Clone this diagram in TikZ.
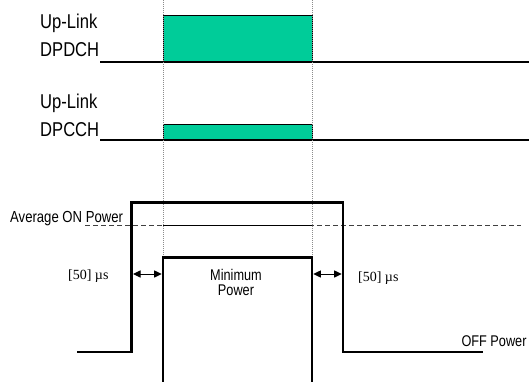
\documentclass[tikz,border=0pt]{standalone}
\usepackage{fontspec}
\setmainfont{Liberation Serif}
\newfontfamily\lsans[FakeStretch=0.83]{Liberation Sans}
\newfontfamily\lsansn[FakeStretch=0.82]{Liberation Sans}
\usetikzlibrary{arrows.meta}
\definecolor{chgreen}{RGB}{0,204,153}
\begin{document}
\begin{tikzpicture}[x=1pt,y=-1pt,
  lbl/.style={inner sep=0pt, font=\lsans\fontsize{20}{20}\selectfont},
  avgfont/.style={inner sep=0pt, font=\lsansn\fontsize{16}{16}\selectfont},
  small/.style={inner sep=0pt, font=\lsansn\fontsize{15.5}{15.5}\selectfont},
  serif/.style={inner sep=0pt, font=\fontsize{14}{14}\selectfont},
  chline/.style={line width=2pt},
  pulse/.style={fill=chgreen, draw=black, line width=0.7pt},
  steplw/.style={line width=2.5pt, line join=miter},
  guide/.style={black!45, line width=0.6pt, dash pattern=on 1pt off 1pt},
  avgdash/.style={black!75, line width=0.8pt, dash pattern=on 5pt off 3pt},
  dim/.style={line width=1pt, {Triangle[length=7.5pt,width=7pt]}-{Triangle[length=7.5pt,width=7pt]}},
]
\useasboundingbox (0,0) rectangle (529,382);
% guide coordinates
\coordinate (t1) at (163,0);
\coordinate (t2) at (312,0);
\coordinate (m1) at (163,257.7);
\coordinate (m2) at (312,257.7);
% DPDCH
\draw[pulse] (163,15) rectangle (312,61.7);
\coordinate (l1a) at (100,61.7);
\coordinate (l1b) at (529,61.7);
\draw[chline] (l1a) -- (l1b);
% DPCCH
\draw[pulse] (163,124.3) rectangle (312,140);
\coordinate (l2a) at (100,140);
\coordinate (l2b) at (529,140);
\draw[chline] (l2a) -- (l2b);
% guides
\draw[guide] (t1) -- (m1);
\draw[guide] (t2) -- (m2);
% average on power
\coordinate (da) at (85,225.7);
\coordinate (db) at (521,225.7);
\draw[avgdash] (da) -- (db);
\coordinate (sa) at (163,225.7);
\coordinate (sb) at (312,225.7);
\draw[line width=1.3pt] (sa) -- (sb);
% outer step
\draw[steplw] (77,352) -- (131.7,352) -- (131.7,202.7) -- (343,202.7) -- (343,352) -- (483,352);
% inner (minimum power)
\draw[steplw] (163,383) -- (m1) -- (m2) -- (312,383);
% dimension arrows
\coordinate (a1) at (133,274);
\coordinate (a2) at (161.7,274);
\coordinate (a3) at (313.3,274);
\coordinate (a4) at (341.7,274);
\draw[dim] (a1) -- (a2);
\draw[dim] (a3) -- (a4);
% labels
\node[lbl, anchor=base west] (ul1) at (40,28.3) {Up-Link};
\node[lbl, anchor=base west] (dpdch) at (40,56.7) {DPDCH};
\node[lbl, anchor=base west] (ul2) at (40,108.3) {Up-Link};
\node[lbl, anchor=base west] (dpcch) at (40,136.7) {DPCCH};
\node[avgfont, anchor=base west] (avg) at (10,222.7) {Average ON Power};
\node[small, anchor=base] (minp1) at (236,280) {Minimum};
\node[small, anchor=base] (minp2) at (236,295) {Power};
\node[serif, anchor=base] (d1) at (88.3,279) {[50] µs};
\node[serif, anchor=base] (d2) at (378.3,281.7) {[50] µs};
\node[small, anchor=base east] (off) at (526.7,346) {OFF Power};
\end{tikzpicture}
\end{document}
